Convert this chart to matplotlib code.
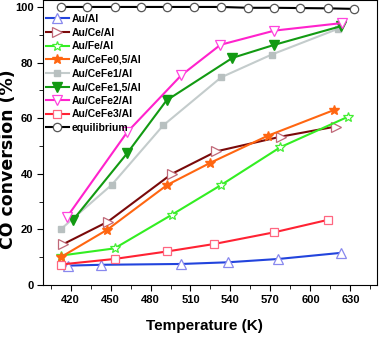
import matplotlib
matplotlib.use("Agg")
import matplotlib.pyplot as plt
from matplotlib.ticker import MultipleLocator

plt.rcParams['font.family'] = ['Liberation Sans', 'DejaVu Sans']
plt.rcParams['font.weight'] = 'bold'

# Data (temperature K, CO conversion %)
T_al = [418, 443, 503, 538, 576, 623]
C_al = [7.0, 7.3, 7.6, 8.2, 9.4, 11.6]

T_ce = [414, 448, 496, 529.5, 578, 619]
C_ce = [14.6, 22.8, 40.0, 48.1, 53.4, 57.0]

T_fe = [412.5, 453, 496, 533, 577.5, 628.5]
C_fe = [10.6, 13.2, 25.3, 36.0, 49.6, 60.6]

T_cefe05 = [412.5, 447.5, 492.5, 525, 568, 618]
C_cefe05 = [10.0, 19.9, 36.0, 44.0, 53.7, 63.0]

T_cefe1 = [412.5, 451, 489.5, 533, 571, 621]
C_cefe1 = [20.0, 36.1, 57.4, 74.7, 82.9, 92.2]

T_cefe15 = [422, 462.5, 492, 541.5, 573, 623]
C_cefe15 = [23.5, 47.4, 66.4, 81.7, 86.4, 93.1]

T_cefe2 = [417.5, 462.5, 503, 532.5, 573, 623.5]
C_cefe2 = [24.6, 55.0, 75.4, 86.4, 91.5, 94.2]

T_cefe3 = [412.5, 453, 492.5, 528, 573, 613.5]
C_cefe3 = [7.4, 9.4, 12.1, 14.8, 19.0, 23.5]

T_eq = [412.5, 432.5, 453, 472.5, 492.5, 512.5, 533, 553, 573, 592.5, 613, 633]
C_eq = [100, 100, 100, 100, 100, 100, 100, 99.7, 99.7, 99.6, 99.5, 99.3]

fig = plt.figure(figsize=(3.79, 3.37), dpi=100)
ax = fig.add_axes([0.114, 0.154, 0.881, 0.846])

ms = 6.5
lw = 1.5
mew = 0.9
ax.plot(T_al, C_al, '-', color='#2244dd', lw=lw, marker='^', ms=ms, mew=mew,
        mfc='white', mec='#8888ee', label='Au/Al')
ax.plot(T_ce, C_ce, '-', color='#7a0a0a', lw=lw, marker='>', ms=ms, mew=mew,
        mfc='white', mec='#c06878', label='Au/Ce/Al')
ax.plot(T_fe, C_fe, '-', color='#33ee22', lw=lw, marker='*', ms=ms + 1, mew=mew,
        mfc='white', mec='#44ee33', label='Au/Fe/Al')
ax.plot(T_cefe05, C_cefe05, '-', color='#ff6611', lw=lw, marker='*', ms=ms + 1,
        mfc='#ff6611', mec='#ff6611', label='Au/CeFe0,5/Al')
ax.plot(T_cefe1, C_cefe1, '-', color='#c4cccc', lw=lw, marker='s', ms=4,
        mfc='#b8c0c0', mec='#b8c0c0', label='Au/CeFe1/Al')
ax.plot(T_cefe15, C_cefe15, '-', color='#129a12', lw=lw, marker='v', ms=ms,
        mfc='#129a12', mec='#129a12', label='Au/CeFe1,5/Al')
ax.plot(T_cefe2, C_cefe2, '-', color='#ff22cc', lw=lw, marker='v', ms=ms + 0.5, mew=mew,
        mfc='white', mec='#ff44dd', label='Au/CeFe2/Al')
ax.plot(T_cefe3, C_cefe3, '-', color='#ff2233', lw=lw, marker='s', ms=ms - 1, mew=mew,
        mfc='white', mec='#ff6680', label='Au/CeFe3/Al')
ax.plot(T_eq, C_eq, '-', color='black', lw=lw, marker='o', ms=ms - 0.5, mew=mew,
        mfc='white', mec='#555555', label='equilibrium')

ax.set_xlim(399.5, 650)
ax.set_ylim(0, 102.5)
ax.xaxis.set_major_locator(MultipleLocator(30))
ax.xaxis.set_minor_locator(MultipleLocator(15))
ax.yaxis.set_major_locator(MultipleLocator(20))
ax.yaxis.set_minor_locator(MultipleLocator(10))
ax.tick_params(which='both', direction='out', top=False, right=False)
ax.tick_params(which='major', length=4, labelsize=8, pad=3)
ax.tick_params(which='minor', length=3)
for lab in ax.get_xticklabels() + ax.get_yticklabels():
    lab.set_fontweight('bold')

ax.set_xlabel('Temperature (K)', fontsize=11, fontweight='bold')
ax.xaxis.set_label_coords(0.484, -0.118)
ax.set_ylabel('CO conversion (%)', fontsize=12.5, fontweight='bold',
              family=['DejaVu Sans'])
ax.yaxis.set_label_coords(-0.079, 0.44)

leg = ax.legend(loc='upper left', bbox_to_anchor=(0.008, 0.951), frameon=False,
                fontsize=7.5, handlelength=2.2, handletextpad=0.25, numpoints=1,
                labelspacing=0.35, borderaxespad=0.0, borderpad=0.0)
for t in leg.get_texts():
    t.set_fontweight('bold')

fig.savefig('out.png', dpi=100)
